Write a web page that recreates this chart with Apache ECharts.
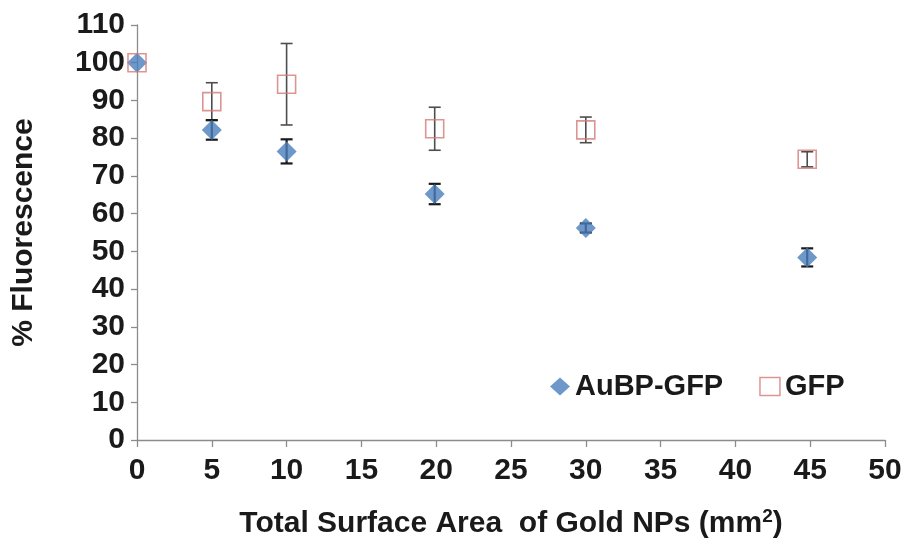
<!DOCTYPE html>
<html>
<head>
<meta charset="utf-8">
<script src="https://cdn.jsdelivr.net/npm/echarts@6/dist/echarts.min.js"></script>
<style>
  html, body { margin: 0; padding: 0; background: #fff; }
  #chart { width: 915px; height: 547px; }
</style>
</head>
<body>
<div id="chart"></div>
<script>
// Surface area of gold nanoparticles (mm^2)
const surfaceArea = [0, 5, 10, 19.9, 30, 44.8];

// % fluorescence, mean and +/- error
const aubpGfp = [100, 82.2, 76.5, 65.2, 56.2, 48.4];
const aubpGfpErr = [0, 2.6, 3.2, 2.7, 1.2, 2.4];
const gfp = [100, 89.7, 94.3, 82.5, 82.2, 74.4];
const gfpErr = [0, 5.0, 10.8, 5.7, 3.4, 2.0];

const xTicks = { min: 0, max: 50, interval: 5 };
const yTicks = { min: 0, max: 110, interval: 10 };

const FONT = 'Liberation Sans, Arial, sans-serif';
const TEXT = { fontFamily: FONT, fontSize: 30, fontWeight: 'bold', color: '#1a1a1a' };
const AXIS_GREY = '#8c8c8c';

function points(ys) {
  return surfaceArea.map((x, i) => [x, ys[i]]);
}
function errorRanges(ys, errs) {
  return surfaceArea.map((x, i) => [x, ys[i] - errs[i], ys[i] + errs[i]]);
}

// Vertical error bar with horizontal caps
function errorBarRenderer(color, width, capHalf) {
  return function (params, api) {
    const x = api.value(0);
    const lo = api.coord([x, api.value(1)]);
    const hi = api.coord([x, api.value(2)]);
    if (Math.abs(lo[1] - hi[1]) < 0.5) return null;
    const style = { stroke: color, lineWidth: width };
    return {
      type: 'group',
      children: [
        { type: 'line', shape: { x1: hi[0], y1: hi[1], x2: lo[0], y2: lo[1] }, style },
        { type: 'line', shape: { x1: hi[0] - capHalf, y1: hi[1], x2: hi[0] + capHalf, y2: hi[1] }, style },
        { type: 'line', shape: { x1: lo[0] - capHalf, y1: lo[1], x2: lo[0] + capHalf, y2: lo[1] }, style }
      ]
    };
  };
}

const chart = echarts.init(document.getElementById('chart'), null, { renderer: 'canvas' });

chart.setOption({
  animation: false,
  backgroundColor: '#ffffff',
  grid: { left: 137, right: 30, top: 25, bottom: 107, containLabel: false },
  legend: {
    left: 545,
    top: 367,
    itemWidth: 20,
    itemHeight: 18,
    itemGap: 36,
    textStyle: Object.assign({}, TEXT, { fontSize: 29 }),
    data: [
      { name: 'AuBP-GFP', icon: 'diamond' },
      { name: 'GFP', icon: 'rect', itemStyle: { color: '#ffffff', borderColor: '#d47a78', borderWidth: 1.5 } }
    ]
  },
  xAxis: {
    type: 'value',
    min: xTicks.min,
    max: xTicks.max,
    interval: xTicks.interval,
    name: 'Total Surface Area  of Gold NPs (mm{sup|2})',
    nameLocation: 'middle',
    nameGap: 67,
    nameTextStyle: Object.assign({}, TEXT, {
      rich: { sup: { fontFamily: FONT, fontSize: 19, fontWeight: 'bold', color: '#1a1a1a', verticalAlign: 'top', padding: [0, 0, 14, 0] } }
    }),
    splitLine: { show: false },
    axisLine: { lineStyle: { color: AXIS_GREY, width: 1.3 } },
    axisTick: { length: 7, lineStyle: { color: AXIS_GREY, width: 1.3 } },
    axisLabel: Object.assign({}, TEXT, { margin: 16 })
  },
  yAxis: {
    type: 'value',
    min: yTicks.min,
    max: yTicks.max,
    interval: yTicks.interval,
    name: '% Fluorescence',
    nameLocation: 'middle',
    nameGap: 98,
    nameTextStyle: TEXT,
    splitLine: { show: false },
    axisLine: { show: true, lineStyle: { color: AXIS_GREY, width: 1.3 } },
    axisTick: { show: true, length: 6, lineStyle: { color: AXIS_GREY, width: 1.3 } },
    axisLabel: Object.assign({}, TEXT, { margin: 12 })
  },
  series: [
    {
      name: 'GFP error',
      type: 'custom',
      renderItem: errorBarRenderer('#4d4d4d', 1.6, 6),
      data: errorRanges(gfp, gfpErr),
      encode: { x: 0, y: [1, 2] },
      z: 2,
      silent: true
    },
    {
      name: 'AuBP-GFP error',
      type: 'custom',
      renderItem: errorBarRenderer('#1a1a1a', 2.2, 6),
      data: errorRanges(aubpGfp, aubpGfpErr),
      encode: { x: 0, y: [1, 2] },
      z: 2,
      silent: true
    },
    {
      name: 'AuBP-GFP',
      type: 'scatter',
      symbol: 'diamond',
      symbolSize: [20, 20],
      itemStyle: { color: '#4a7ebb' },
      data: points(aubpGfp),
      z: 3
    },
    {
      name: 'GFP',
      type: 'scatter',
      symbol: 'rect',
      symbolSize: [18, 18],
      itemStyle: { color: 'rgba(255,255,255,0)', borderColor: '#d47a78', borderWidth: 1.6 },
      data: points(gfp),
      z: 4
    }
  ]
});
</script>
</body>
</html>
